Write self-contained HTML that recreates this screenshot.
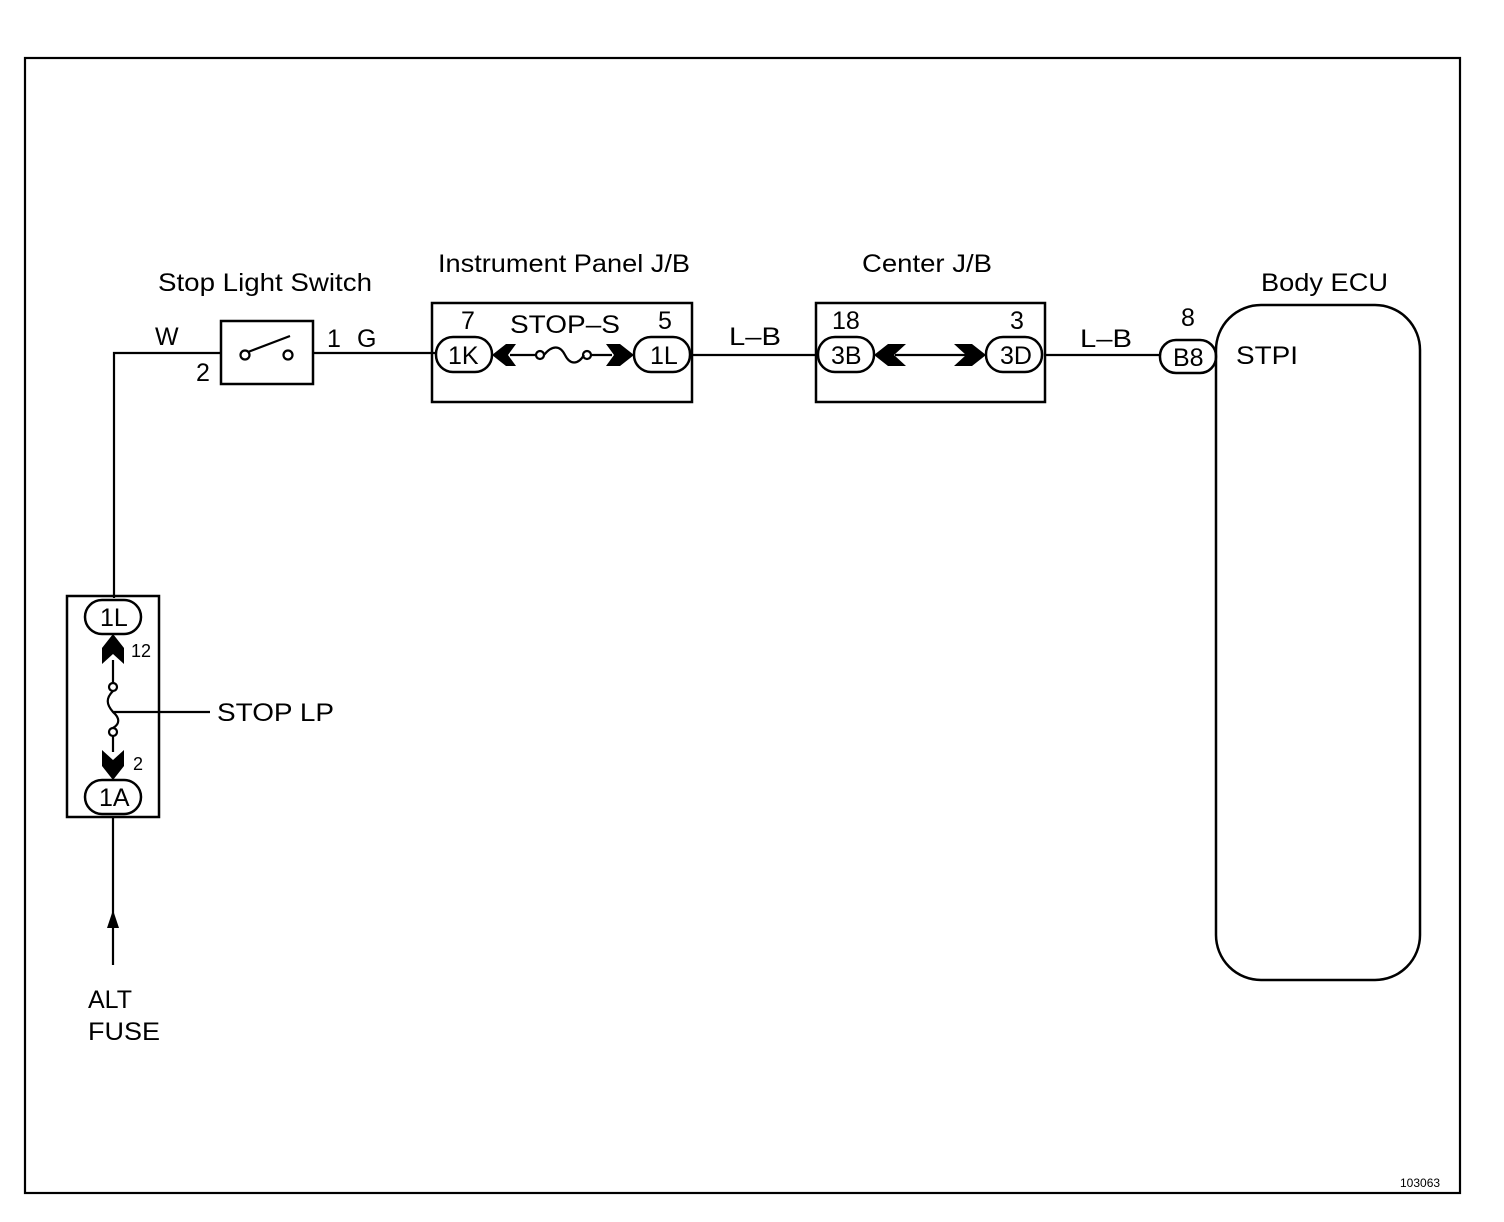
<!DOCTYPE html>
<html><head><style>
body{margin:0;background:#fff}
svg{display:block}
text{font-family:"Liberation Sans",Arial,sans-serif;fill:#000}
</style></head><body>
<svg width="1504" height="1222" viewBox="0 0 1504 1222" xmlns="http://www.w3.org/2000/svg">
<g fill="none" stroke="#000" stroke-width="2.2">
<rect x="25" y="58" width="1435" height="1135"/>
<polyline points="114,598 114,353 221,353"/>
<line x1="313" y1="353" x2="435" y2="353"/>
<line x1="692" y1="355" x2="818" y2="355"/>
<line x1="1045" y1="355" x2="1160" y2="355"/>
<line x1="113" y1="817" x2="113" y2="965"/>
<line x1="113" y1="712" x2="210" y2="712"/>
<rect x="221" y="321" width="92" height="63" stroke-width="2.5"/>
<circle cx="245" cy="355" r="4.5"/>
<circle cx="288" cy="355" r="4.5"/>
<line x1="248" y1="352" x2="290" y2="336"/>
<rect x="432" y="303" width="260" height="99" stroke-width="2.5"/>
<rect x="436" y="337" width="56" height="35" rx="17" stroke-width="2.5"/>
<rect x="634" y="337" width="56" height="35" rx="17" stroke-width="2.5"/>
<line x1="510" y1="355" x2="536" y2="355"/>
<circle cx="540" cy="355" r="4"/>
<path d="M544,355 C552,345 560,345 565,355 C570,365 578,365 584,355"/>
<circle cx="587" cy="355" r="4"/>
<line x1="591" y1="355" x2="612" y2="355"/>
<rect x="816" y="303" width="229" height="99" stroke-width="2.5"/>
<rect x="818" y="337" width="56" height="35" rx="17" stroke-width="2.5"/>
<rect x="986" y="337" width="56" height="35" rx="17" stroke-width="2.5"/>
<line x1="895" y1="355" x2="968" y2="355"/>
<rect x="1160" y="340" width="56" height="33" rx="16" stroke-width="2.5"/>
<rect x="1216" y="305" width="204" height="675" rx="45" stroke-width="2.5"/>
<rect x="67" y="596" width="92" height="221" stroke-width="2.5"/>
<rect x="85" y="600" width="56" height="34" rx="17" stroke-width="2.5"/>
<rect x="85" y="780" width="56" height="34" rx="17" stroke-width="2.5"/>
<line x1="113" y1="660" x2="113" y2="683"/>
<circle cx="113" cy="687" r="4"/>
<path d="M113,691 C106,698 106,704 113,712 C120,718 120,724 113,728"/>
<circle cx="113" cy="732" r="4"/>
<line x1="113" y1="736" x2="113" y2="752"/>
</g>
<g fill="#000">
<polygon points="492,355 506,344 516,344 508,355 516,366 506,366"/>
<polygon points="634,355 620,344 606,344 614,355 606,366 620,366"/>
<polygon points="874,355 888,344 906,344 894,355 906,366 888,366"/>
<polygon points="986,355 972,344 954,344 966,355 954,366 972,366"/>
<polygon points="113,634 102,648 102,664 113,654 124,664 124,648"/>
<polygon points="113,780 102,766 102,750 113,760 124,750 124,766"/>
<polygon points="113,910 107,928 119,928"/>
</g>
<g font-size="25">
<text x="158" y="291" textLength="214" lengthAdjust="spacingAndGlyphs">Stop Light Switch</text>
<text x="438" y="272" textLength="252" lengthAdjust="spacingAndGlyphs">Instrument Panel J/B</text>
<text x="862" y="272" textLength="130" lengthAdjust="spacingAndGlyphs">Center J/B</text>
<text x="1261" y="291" textLength="127" lengthAdjust="spacingAndGlyphs">Body ECU</text>
<text x="155" y="345">W</text>
<text x="196" y="381">2</text>
<text x="327" y="347">1</text>
<text x="357" y="347">G</text>
<text x="461" y="329">7</text>
<text x="510" y="333" textLength="110" lengthAdjust="spacingAndGlyphs">STOP–S</text>
<text x="658" y="329">5</text>
<text x="729" y="345" textLength="52" lengthAdjust="spacingAndGlyphs">L–B</text>
<text x="832" y="329">18</text>
<text x="1010" y="329">3</text>
<text x="1080" y="347" textLength="52" lengthAdjust="spacingAndGlyphs">L–B</text>
<text x="1181" y="326">8</text>
<text x="1236" y="364" textLength="62" lengthAdjust="spacingAndGlyphs">STPI</text>
<text x="217" y="721" textLength="117" lengthAdjust="spacingAndGlyphs">STOP LP</text>
<text x="88" y="1008">ALT</text>
<text x="88" y="1040" textLength="72" lengthAdjust="spacingAndGlyphs">FUSE</text>
<text x="448" y="364">1K</text>
<text x="650" y="364">1L</text>
<text x="831" y="364">3B</text>
<text x="1000" y="364">3D</text>
<text x="1173" y="366">B8</text>
<text x="100" y="626">1L</text>
<text x="99" y="806">1A</text>
</g>
<g font-size="18">
<text x="131" y="657">12</text>
<text x="133" y="770">2</text>
</g>
<text x="1400" y="1187" font-size="12">103063</text>
</svg>
</body></html>
